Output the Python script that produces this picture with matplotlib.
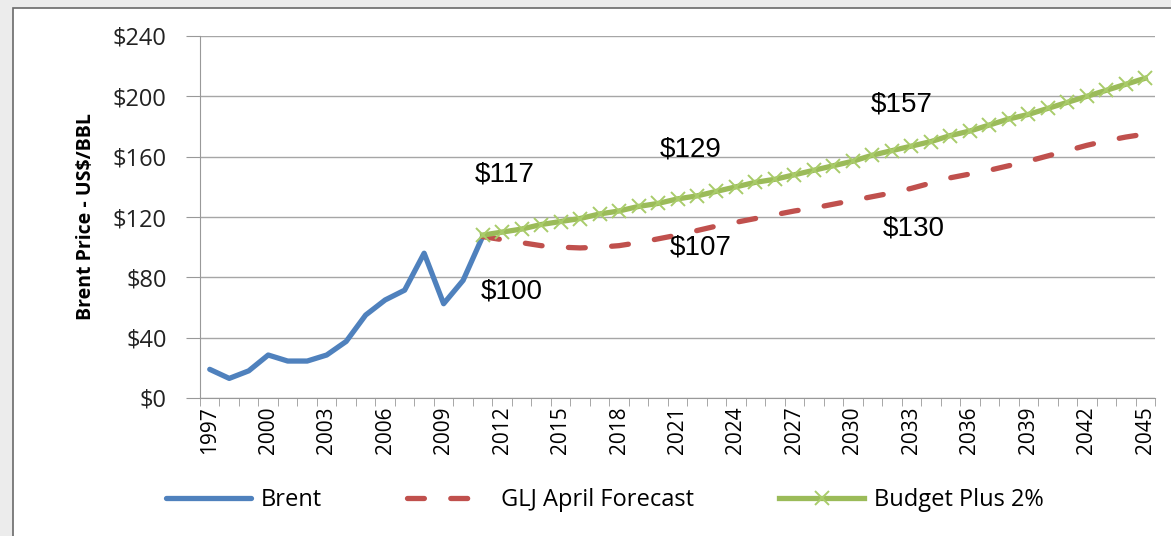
import matplotlib.pyplot as plt
from matplotlib.patches import Rectangle
from matplotlib.ticker import FixedLocator

# Datos
brent_years = list(range(1997, 2012))
brent = [19, 13, 18, 28.5, 24.5, 24.5, 28.5, 37.5, 55, 65, 71.5, 96, 62.5, 78, 107]

fc_years = list(range(2011, 2046))
glj = [107, 105, 103, 101, 100, 99.5, 100, 101, 103, 105.5, 108, 111, 114, 116.5,
       119, 121.5, 124, 126, 128.5, 131, 133.5, 136, 139, 142.5, 146, 148.5, 151,
       154, 157, 160.5, 164, 167.5, 170.5, 173, 175]
budget = [108, 110, 112, 115, 117, 119, 122, 124, 127, 129, 132, 134, 137, 140,
          143, 145, 148, 151, 154, 157, 161, 164, 167, 170, 174, 177, 181, 185,
          188, 192, 196, 200, 204, 208, 212]

label_years = list(range(1997, 2046, 3))
y_ticks = [0, 40, 80, 120, 160, 200, 240]

# Etiquetas de texto sobre el gráfico (texto, año, valor)
notes = [('$117', 2012.15, 148), ('$129', 2021.7, 164.5), ('$157', 2032.5, 194.3),
         ('$100', 2012.5, 70.3), ('$107', 2022.2, 99.5), ('$130', 2033.1, 112.7)]

fig = plt.figure(figsize=(11.71, 5.36), dpi=100, facecolor='#ececec')
fig.patches.append(Rectangle((13 / 1171, -0.1), 1.2, 1.1 - 8 / 536, transform=fig.transFigure,
                             facecolor='white', edgecolor='#6a6a6a', linewidth=1.2, zorder=-10))

ax = fig.add_axes([200 / 1171, 1 - 398 / 536, 955 / 1171, 362 / 536])
ax.set_facecolor('none')

ax.plot(brent_years, brent, color='#4F81BD', lw=3.8, solid_capstyle='round', zorder=3, label='Brent')
ax.plot(fc_years, glj, color='#C0504D', lw=3.8, dashes=(3.2, 5), dash_capstyle='round', zorder=3,
        label='GLJ April Forecast')
ax.plot(fc_years, budget, color='#9BBB59', lw=3.8, marker='x', ms=10, mew=1.4, mec='#A9CC6A',
        zorder=4, label='Budget Plus 2%')

for txt, x, y in notes:
    ax.text(x, y, txt, fontsize=20, family='Liberation Sans', ha='center', va='center', color='black')

ax.set_xlim(1996.5, 2045.5)
ax.set_ylim(0, 240)
ax.set_yticks(y_ticks)
ax.set_yticklabels(['$' + str(v) for v in y_ticks], fontsize=17, family='Open Sans', color='#222222')
ax.set_xticks(label_years)
ax.set_xticklabels([str(y) for y in label_years], rotation=90, fontsize=15, family='Open Sans', color='black')
ax.xaxis.set_minor_locator(FixedLocator([y + 0.5 for y in range(1996, 2046)]))
ax.tick_params(axis='x', which='major', length=0, pad=6)
ax.tick_params(axis='x', which='minor', length=6, color='#999999', direction='out')
ax.tick_params(axis='y', length=10, color='#999999', pad=14)

ax.grid(axis='y', color='#a6a6a6', lw=1)
ax.set_axisbelow(True)
for s in ['top', 'right']:
    ax.spines[s].set_visible(False)
for s in ['left', 'bottom']:
    ax.spines[s].set_color('#999999')

ax.set_ylabel('Brent Price - US$/BBL', fontsize=14, family='Open Sans', fontweight='bold', labelpad=12)

leg = fig.legend(loc='center', bbox_to_anchor=(605 / 1171, 1 - 500 / 536), ncol=3, frameon=False,
                 prop={'family': 'Open Sans', 'size': 17}, handlelength=3.6, columnspacing=3.6,
                 handletextpad=0.4)

fig.savefig('out.png', dpi=100, facecolor=fig.get_facecolor())
